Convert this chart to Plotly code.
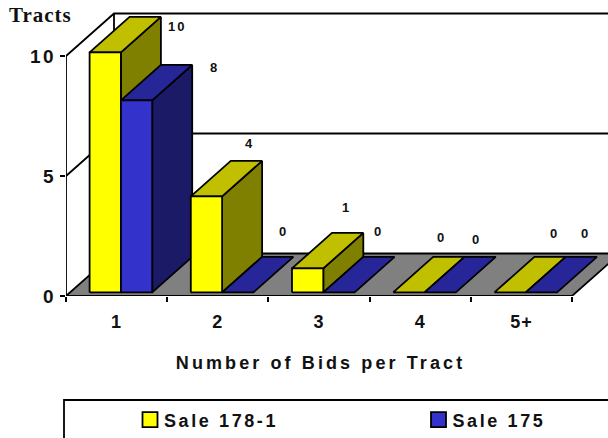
import plotly.graph_objects as go

categories = ["1", "2", "3", "4", "5+"]
sale_178_1 = [10, 4, 1, 0, 0]
sale_175 = [8, 0, 0, 0, 0]
series_names = ["Sale 178-1", "Sale 175"]
y_ticks = [0, 5, 10]
x_title = "Number of Bids per Tract"
y_title = "Tracts"

W, H = 608, 438
L, B = 66, 142
XPX, YPX = 101.2, 24.0
px = lambda p: p / XPX
py = lambda p: p / YPX

BACK_X, BACK_Y = px(48), py(42.5)
BAR_DX, BAR_DY = px(40), py(35.5)
LIFT = py(3.6)
BAR_START, BAR_W = px(23.6), px(31.3)
LW = 1.8

FLOOR = "#808080"
COL = [
    dict(front="#FFFF00", top="#C0C000", side="#808000"),
    dict(front="#3333CC", top="#262699", side="#1A1A66"),
]

fig = go.Figure()


def poly(xs, ys, fill):
    fig.add_trace(go.Scatter(
        x=xs + xs[:1], y=ys + ys[:1], mode="lines", fill="toself", fillcolor=fill,
        line=dict(color="black", width=LW), showlegend=False, hoverinfo="skip",
        cliponaxis=False))


def line(xs, ys):
    fig.add_trace(go.Scatter(
        x=xs, y=ys, mode="lines", line=dict(color="black", width=LW),
        showlegend=False, hoverinfo="skip", cliponaxis=False))


n = len(categories)
far = n + BACK_X + 0.3
# walls
line([0, BACK_X, far], [10, 10 + BACK_Y, 10 + BACK_Y])
line([0, BACK_X, far], [5, 5 + BACK_Y, 5 + BACK_Y])
line([BACK_X, BACK_X], [BACK_Y, 10 + BACK_Y])
line([0, 0], [0, 10])
# floor
poly([0, BACK_X, n + BACK_X, n], [0, BACK_Y, BACK_Y, 0], FLOOR)

# bars, left to right, painter's order
data = [sale_178_1, sale_175]
label_offsets = [
    [(16, -10), (-13, 17), (-17, 25), (-23, 19), (-11, 23)],
    [(22, -3), (-10, 25), (-16, 25), (-19, 17), (-12, 23)],
]
annotations = []
for i in range(n):
    for s in range(2):
        v = data[s][i]
        x0 = i + BAR_START + s * BAR_W
        x1 = x0 + BAR_W
        y0 = LIFT
        y1 = LIFT + v
        c = COL[s]
        if v > 0:
            poly([x1, x1 + BAR_DX, x1 + BAR_DX, x1], [y0, y0 + BAR_DY, y1 + BAR_DY, y1], c["side"])
        poly([x0, x1, x1 + BAR_DX, x0 + BAR_DX], [y1, y1, y1 + BAR_DY, y1 + BAR_DY], c["top"])
        if v > 0:
            poly([x0, x1, x1, x0], [y0, y0, y1, y1], c["front"])
        dx, dy = label_offsets[s][i]
        annotations.append(dict(
            x=x1 + BAR_DX, y=y1 + BAR_DY, text=str(v), showarrow=False,
            xshift=dx, yshift=dy, xanchor="center", yanchor="middle",
            font=dict(family="Liberation Sans", size=13, color="#111111")
            ))

# front axis line
line([0, n], [0, 0])

# legend entries, one legend per series
for s in range(2):
    fig.add_trace(go.Scatter(
        x=[None], y=[None], mode="markers", name=series_names[s],
        legend="legend" if s == 0 else "legend2",
        marker=dict(symbol="square", size=15, color=COL[s]["front"],
                    line=dict(color="black", width=1.8))))

annotations.append(dict(xref="paper", yref="paper", x=(320 - L) / (W - L), y=(B + 154 - 363) / (H - B),
                        text="<b>%s</b>" % x_title, showarrow=False, xanchor="center", yanchor="middle",
                        font=dict(family="Liberation Sans", size=18, color="#111111")))
annotations.append(dict(xref="paper", yref="paper", x=(10 - L) / (W - L), y=(296 - 15) / (H - B),
                        text="<b>%s</b>" % y_title, showarrow=False, xanchor="left", yanchor="middle",
                        font=dict(family="Liberation Serif", size=21, color="#111111")))

legend_style = dict(xanchor="left", yanchor="middle", bgcolor="rgba(0,0,0,0)",
                    y=(296 - 420) / (H - B),
                    font=dict(family="Liberation Sans", size=18, weight="bold", color="#111111"))

fig.update_layout(
    width=W, height=H, margin=dict(l=L, r=0, t=0, b=B, autoexpand=False),
    paper_bgcolor="white", plot_bgcolor="white",
    font=dict(family="Liberation Sans", color="#111111"),
    xaxis=dict(range=[0, (W - L) / XPX], tickmode="array",
               tickvals=[i + 0.5 for i in range(n)], ticktext=["<b>%s</b>" % c for c in categories],
               ticks="", showline=False, showgrid=False, zeroline=False,
               tickfont=dict(size=18), ticklabelstandoff=13, fixedrange=True,
               minor=dict(tickmode="array", tickvals=list(range(n + 1)), ticks="outside",
                          ticklen=5, tickwidth=LW, tickcolor="black", showgrid=False)),
    yaxis=dict(range=[0, (H - B) / YPX], tickmode="array", tickvals=y_ticks,
               ticktext=["<b>%d</b>" % t for t in y_ticks],
               ticks="outside", ticklen=5, tickwidth=LW, tickcolor="black",
               showline=False, showgrid=False, zeroline=False,
               tickfont=dict(size=19), fixedrange=True),
    legend=dict(x=(130 - L) / (W - L), **legend_style),
    legend2=dict(x=(418.5 - L) / (W - L), **legend_style),
    annotations=annotations,
    shapes=[dict(type="rect", xref="paper", yref="paper", x0=(64 - L) / (W - L), x1=1.2,
                 y0=(296 - 520) / (H - B), y1=(296 - 400) / (H - B), line=dict(color="black", width=LW))],
    showlegend=True,
)

post = """
var gd = document.getElementById('{plot_id}');
document.body.style.margin = '0';
var st = document.createElement('style');
st.textContent = '.ytick text{letter-spacing:2.5px} .xtick text{letter-spacing:1px}'
  + ' .legendtext,.legend2text{letter-spacing:2.6px; transform:translateX(-6px)}'
  + ' .scrollbox{clip-path:none !important}';
document.head.appendChild(st);
gd.querySelectorAll('.annotation-text').forEach(function(e){
  if (e.textContent.indexOf('Number') === 0) e.style.letterSpacing='3.1px';
  else if (e.textContent.indexOf('Tracts') === 0) e.style.letterSpacing='1px';
  else if (/^[0-9]+$/.test(e.textContent)) {e.style.letterSpacing='2px'; e.style.fontWeight='bold';}
});
"""
fig.write_html("out.html", post_script=post, config=dict(displayModeBar=False))
